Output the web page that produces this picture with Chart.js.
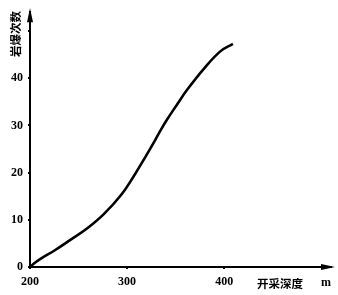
<!DOCTYPE html>
<html><head><meta charset="utf-8">
<script src="https://cdn.jsdelivr.net/npm/chart.js@4"></script>
<style>html,body{margin:0;padding:0;background:#fff}#wrap{width:338px;height:295px}</style>
</head><body><div id="wrap"><canvas id="c" width="338" height="295"></canvas></div>
<script>
const depths = [200,205,212,226,242,259,276,294,307,317,327,334,341,352,362,379,396,409];
const counts = [0,0.9,1.9,3.6,5.8,8.2,11.2,15.3,19.3,22.7,26.2,28.8,31.2,34.6,37.6,42.0,45.7,47.3];
const xTickValues = [200,300,400];
const yTickValues = [0,10,20,30,40,50];
const yTickLabelled = [0,10,20,30,40];
const xTitle = '开采深度';
const xUnit = 'm';
const yTitle = '岩爆次数';

const tickFont = {family:'Liberation Serif', size:12, weight:'bold'};
const cjkFont = 'bold 11.5px "Noto Sans CJK SC"';

const arrows = {
  id:'arrows',
  afterDraw(chart){
    const ctx = chart.ctx, a = chart.chartArea;
    ctx.save();
    ctx.fillStyle = '#000';
    ctx.beginPath();
    ctx.moveTo(a.left, a.top-4);
    ctx.lineTo(a.left-3, a.top+10);
    ctx.lineTo(a.left+3, a.top+10);
    ctx.closePath(); ctx.fill();
    ctx.beginPath();
    ctx.moveTo(a.right+4, a.bottom);
    ctx.lineTo(a.right-10, a.bottom-3);
    ctx.lineTo(a.right-10, a.bottom+3);
    ctx.closePath(); ctx.fill();
    ctx.font = cjkFont;
    ctx.textBaseline = 'middle';
    ctx.textAlign = 'left';
    ctx.fillText(xTitle, 257, 284);
    ctx.font = 'bold 12px "Liberation Serif"';
    ctx.fillText(xUnit, 321, 283);
    ctx.translate(16, 34);
    ctx.rotate(-Math.PI/2);
    ctx.font = cjkFont;
    ctx.textAlign = 'center';
    ctx.fillText(yTitle, 0, 0);
    ctx.restore();
  }
};

new Chart(document.getElementById('c'), {
  type:'line',
  data:{
    datasets:[{
      data: depths.map((d,i)=>({x:d,y:counts[i]})),
      borderColor:'#000', borderWidth:2.6, pointRadius:0, tension:0.4,
      fill:false
    }]
  },
  options:{
    responsive:false, animation:false, devicePixelRatio:1,
    layout:{padding:{top:8, right:7, left:0, bottom:0}},
    plugins:{legend:{display:false}, tooltip:{enabled:false}},
    scales:{
      x:{
        type:'linear', min:200, max:510,
        afterBuildTicks(s){ s.ticks = xTickValues.map(v=>({value:v})); },
        afterFit(s){ s.height = 28; },
        grid:{display:true, drawOnChartArea:false, drawTicks:true, tickLength:2, color:'#000', lineWidth:2},
        border:{display:true, color:'#000', width:2},
        ticks:{color:'#000', font:tickFont, padding:6, maxRotation:0,
          callback:(v)=>String(v)}
      },
      y:{
        type:'linear', min:0, max:54,
        afterBuildTicks(s){ s.ticks = yTickValues.map(v=>({value:v})); },
        afterFit(s){ s.width = 30; },
        grid:{display:true, drawOnChartArea:false, drawTicks:true, tickLength:2, color:'#000', lineWidth:2},
        border:{display:true, color:'#000', width:2},
        ticks:{color:'#000', font:tickFont, padding:5,
          callback:(v)=> yTickLabelled.includes(v) ? String(v) : ''}
      }
    }
  },
  plugins:[arrows]
});
</script>
</body></html>
